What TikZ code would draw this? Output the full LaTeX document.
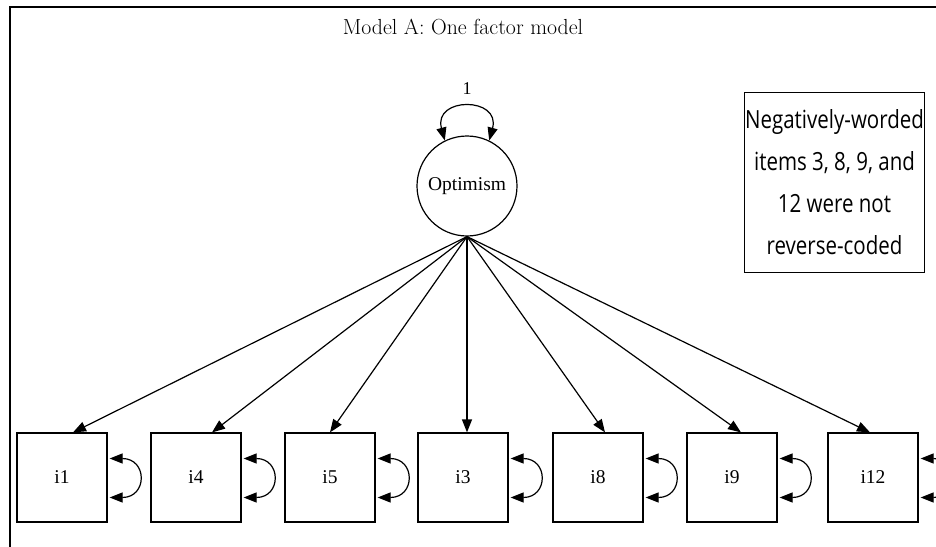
\documentclass[tikz,border=0pt]{standalone}
\usepackage{fontspec}
\usepackage{tikz}
\usetikzlibrary{arrows.meta}
\newfontfamily\nodefont{Liberation Serif}
\newfontfamily\notefont[FakeStretch=0.82]{Open Sans}

\begin{document}
\begin{tikzpicture}[x=1pt,y=-1pt,line width=1.2pt,
    >={Triangle[length=13pt,width=10pt]},
    latent/.style={draw,circle,minimum size=100pt,inner sep=0pt,
      font=\nodefont\fontsize{19.5}{22}\selectfont},
    item/.style={draw,rectangle,minimum width=90pt,minimum height=89pt,inner sep=0pt,
      font=\nodefont\fontsize{19.5}{22}\selectfont}]
    \useasboundingbox (0,0) rectangle (936,546);
    \clip (0,0) rectangle (936,546);
    \draw[line width=2.4pt] (10,570) -- (10,7) -- (960,7);
    \node (title) at (463,27) {\fontsize{21.8}{26}\selectfont Model A: One factor model};
    % latent factor
    \node[latent] (opt) at (467,186) {Optimism};
    \draw[<->] (opt.116) .. controls +(-12,-44) and +(12,-44) .. (opt.64);
    \node (v0) at (467,89) {\nodefont\fontsize{18}{20}\selectfont 1};
    % indicators
    \node[item] (i1) at (62,477.5) {i1};
    \node[item] (i4) at (196,477.5) {i4};
    \node[item] (i5) at (330,477.5) {i5};
    \node[item] (i3) at (463,477.5) {i3};
    \node[item] (i8) at (598,477.5) {i8};
    \node[item] (i9) at (732,477.5) {i9};
    \node[item] (i12) at (873,477.5) {i12};
    % loadings
    \draw[->] (opt.south) -- ([xshift=11pt]i1.north);
    \draw[->] (opt.south) -- ([xshift=16pt]i4.north);
    \draw[->] (opt.south) -- ([xshift=0pt]i5.north);
    \draw[->] (opt.south) -- ([xshift=4pt]i3.north);
    \draw[->] (opt.south) -- ([xshift=7pt]i8.north);
    \draw[->] (opt.south) -- ([xshift=9pt]i9.north);
    \draw[->] (opt.south) -- ([xshift=-3pt]i12.north);
    % residual variances
    \draw[<->] ([yshift=19pt,xshift=2pt]i1.east) .. controls +(38,0) and +(38,0) .. ([yshift=-20pt,xshift=2pt]i1.east);
    \draw[<->] ([yshift=19pt,xshift=2pt]i4.east) .. controls +(38,0) and +(38,0) .. ([yshift=-20pt,xshift=2pt]i4.east);
    \draw[<->] ([yshift=19pt,xshift=2pt]i5.east) .. controls +(38,0) and +(38,0) .. ([yshift=-20pt,xshift=2pt]i5.east);
    \draw[<->] ([yshift=19pt,xshift=2pt]i3.east) .. controls +(38,0) and +(38,0) .. ([yshift=-20pt,xshift=2pt]i3.east);
    \draw[<->] ([yshift=19pt,xshift=2pt]i8.east) .. controls +(38,0) and +(38,0) .. ([yshift=-20pt,xshift=2pt]i8.east);
    \draw[<->] ([yshift=19pt,xshift=2pt]i9.east) .. controls +(38,0) and +(38,0) .. ([yshift=-20pt,xshift=2pt]i9.east);
    \draw[<->] ([yshift=19pt,xshift=2pt]i12.east) .. controls +(38,0) and +(38,0) .. ([yshift=-20pt,xshift=2pt]i12.east);
    % note
    \node[draw,line width=0.8pt,minimum width=180pt,minimum height=180pt,inner sep=0pt,
      align=center,font=\notefont\fontsize{25}{42}\selectfont] (note) at (834.5,182)
      {Negatively-worded\\items 3, 8, 9, and\\12 were not\\reverse-coded};
\end{tikzpicture}
\end{document}
